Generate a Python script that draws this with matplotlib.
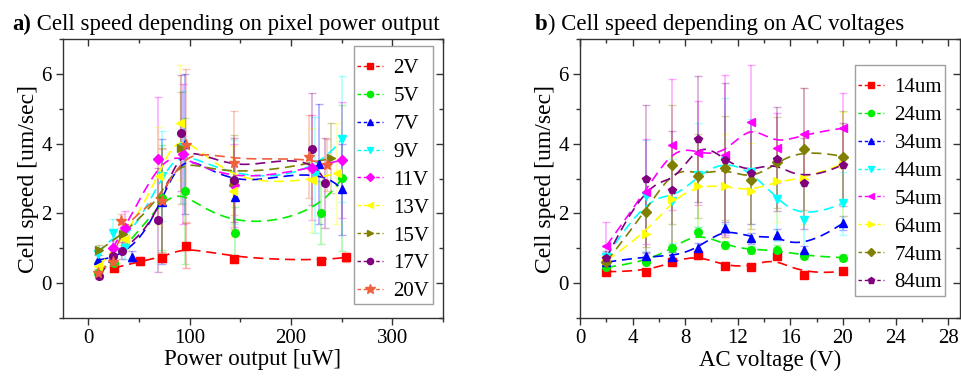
import numpy as np
import matplotlib
matplotlib.use("Agg")
import matplotlib.pyplot as plt
from matplotlib.ticker import MultipleLocator

plt.rcParams['font.family'] = ['Liberation Serif', 'DejaVu Serif']

# ---------------- data: panel a (power output) ----------------
a_labels = ["2V", "5V", "7V", "9V", "11V", "13V", "15V", "17V", "20V"]
a_x_2V = [25, 51, 73, 96, 144, 230, 254]
a_y_2V = [0.43, 0.63, 0.72, 1.07, 0.69, 0.64, 0.74]
a_e_2V = [0.10, 0.12, 0.12, 0.65, 0.10, 0.10, 0.12]
a_x_5V = [10, 25, 73, 95, 145, 230, 250]
a_y_5V = [0.30, 0.59, 2.45, 2.64, 1.43, 2.02, 3.01]
a_e_5V = [0.10, 0.12, 1.50, 2.10, 0.75, 0.90, 2.10]
a_x_7V = [10, 43, 73, 95, 145, 228, 250]
a_y_7V = [0.67, 0.76, 2.34, 3.99, 2.48, 3.42, 2.69]
a_e_7V = [0.15, 0.15, 1.80, 2.00, 1.00, 1.73, 1.30]
a_x_9V = [10, 24, 36, 73, 93, 144, 224, 250]
a_y_9V = [0.83, 1.45, 1.00, 3.07, 3.90, 2.90, 3.10, 4.13]
a_e_9V = [0.20, 0.40, 0.30, 1.30, 1.60, 1.20, 1.65, 1.80]
a_x_11V = [24, 36, 69, 93, 144, 221, 250]
a_y_11V = [1.00, 1.58, 3.55, 3.70, 2.80, 3.31, 3.53]
a_e_11V = [0.20, 0.50, 1.80, 2.00, 1.20, 1.50, 1.67]
a_x_13V = [10, 36, 70, 90, 143, 221, 245]
a_y_13V = [0.48, 1.26, 3.07, 4.60, 2.63, 2.96, 3.15]
a_e_13V = [0.15, 0.30, 1.40, 1.65, 1.30, 1.50, 1.45]
a_x_15V = [11, 34, 73, 91, 144, 239]
a_y_15V = [0.95, 1.40, 2.38, 3.87, 2.90, 3.58]
a_e_15V = [0.15, 0.30, 1.50, 1.60, 1.35, 1.00]
a_x_17V = [11, 24, 33, 69, 91, 144, 221, 234]
a_y_17V = [0.21, 0.78, 0.93, 1.81, 4.30, 2.96, 3.85, 2.87]
a_e_17V = [0.10, 0.20, 0.25, 1.50, 1.67, 1.20, 1.60, 1.30]
a_x_20V = [10, 24, 32, 73, 96, 144, 218, 236]
a_y_20V = [0.30, 0.60, 1.77, 2.36, 3.95, 3.44, 3.63, 3.39]
a_e_20V = [0.10, 0.15, 0.20, 1.50, 2.20, 1.50, 1.20, 0.75]

# ---------------- data: panel b (AC voltage) ----------------
b_labels = ["14um", "24um", "34um", "44um", "54um", "64um", "74um", "84um"]
b_x = [2, 5, 7, 9, 11, 13, 15, 17, 20]
b_y_14 = [0.33, 0.33, 0.62, 0.80, 0.49, 0.47, 0.77, 0.22, 0.34]
b_e_14 = [0.05, 0.08, 0.10, 0.10, 0.08, 0.08, 0.08, 0.08, 0.08]
b_y_24 = [0.45, 0.61, 1.00, 1.46, 1.09, 0.95, 0.96, 0.78, 0.73]
b_e_24 = [0.10, 0.10, 0.12, 0.15, 0.12, 0.12, 0.12, 0.10, 0.10]
b_y_34 = [0.60, 0.77, 0.75, 1.00, 1.59, 1.28, 1.39, 0.96, 1.72]
b_e_34 = [0.10, 0.10, 0.15, 0.15, 0.15, 0.15, 0.15, 0.10, 0.20]
b_y_44 = [0.75, 2.51, 2.35, 3.10, 3.50, 3.20, 2.41, 1.81, 2.29]
b_e_44 = [0.15, 1.60, 1.20, 1.50, 1.80, 1.50, 1.20, 1.00, 0.90]
b_y_54 = [1.07, 2.62, 3.97, 3.73, 3.68, 4.61, 3.88, 4.29, 4.44]
b_e_54 = [0.69, 1.50, 1.87, 1.50, 2.30, 1.65, 1.00, 1.30, 1.00]
b_y_64 = [0.65, 1.41, 2.41, 2.79, 2.79, 2.63, 2.94, 2.99, 3.42]
b_e_64 = [0.15, 0.60, 1.20, 1.30, 1.50, 1.40, 1.20, 1.30, 1.50]
b_y_74 = [0.62, 2.03, 3.40, 3.08, 3.30, 2.96, 3.46, 3.85, 3.63]
b_e_74 = [0.15, 1.00, 1.70, 1.20, 1.50, 1.40, 1.30, 1.75, 1.30]
b_y_84 = [0.71, 3.00, 2.67, 4.13, 3.53, 3.15, 3.56, 2.86, 3.40]
b_e_84 = [0.20, 2.10, 1.70, 1.80, 2.20, 1.46, 1.50, 1.30, 1.20]

colors = ["#FF0000", "#00EE00", "#0000FF", "#00FFFF", "#FF00FF",
          "#FFFF00", "#808000", "#800080", "#F0603C"]
a_markers = ["s", "o", "^", "v", "D", "<", ">", "o", "*"]
b_markers = ["s", "o", "^", "v", "<", ">", "D", "p"]

a_series = [(a_x_2V, a_y_2V, a_e_2V), (a_x_5V, a_y_5V, a_e_5V),
            (a_x_7V, a_y_7V, a_e_7V), (a_x_9V, a_y_9V, a_e_9V),
            (a_x_11V, a_y_11V, a_e_11V), (a_x_13V, a_y_13V, a_e_13V),
            (a_x_15V, a_y_15V, a_e_15V), (a_x_17V, a_y_17V, a_e_17V),
            (a_x_20V, a_y_20V, a_e_20V)]
b_series = [(b_y_14, b_e_14), (b_y_24, b_e_24), (b_y_34, b_e_34),
            (b_y_44, b_e_44), (b_y_54, b_e_54), (b_y_64, b_e_64),
            (b_y_74, b_e_74), (b_y_84, b_e_84)]


def bspline(xs, ys, n=300, k=3):
    P = np.column_stack([np.asarray(xs, float), np.asarray(ys, float)])
    m = len(P)
    k = min(k, m - 1)
    t = np.concatenate([np.zeros(k + 1), np.arange(1, m - k),
                        np.full(k + 1, m - k)]).astype(float)
    u = np.linspace(0, m - k, n)
    N = np.zeros((len(t) - 1, n))
    for i in range(len(t) - 1):
        N[i] = (t[i] <= u) & (u < t[i + 1])
    N[m - 1, u >= t[-1]] = 1.0
    for p in range(1, k + 1):
        Nn = np.zeros((len(t) - 1 - p, n))
        for i in range(len(t) - 1 - p):
            d1 = t[i + p] - t[i]
            d2 = t[i + p + 1] - t[i + 1]
            a = (u - t[i]) / d1 * N[i] if d1 > 0 else 0
            b = (t[i + p + 1] - u) / d2 * N[i + 1] if d2 > 0 else 0
            Nn[i] = a + b
        N = Nn
    C = N.T @ P
    return C[:, 0], C[:, 1]


W, H = 961, 377
fig = plt.figure(figsize=(W / 100, H / 100), dpi=100)
axA = fig.add_axes([63 / W, 1 - 318 / H, (443 - 63) / W, (318 - 39) / H])
axB = fig.add_axes([580 / W, 1 - 318 / H, (960 - 580) / W, (318 - 39) / H])

TICK_FS = 15
XLAB_FS = 16.5
YLAB_FS = 17
LEG_FS = 15
TFS = 16.4


def draw(ax, x, y, e, c, mk, lab):
    ax.errorbar(x, y, yerr=e, fmt="none", ecolor=c, alpha=0.33,
                elinewidth=1.2, capsize=3, capthick=1.0, zorder=2)
    sx, sy = bspline(x, y)
    ax.plot(sx, sy, ls=(0, (6, 3.5)), color=c, lw=1.2, zorder=3)
    ms = 8 if mk == "*" else 5.5
    ax.plot(x, y, ls="none", marker=mk, color=c, ms=ms, zorder=4)
    # legend proxy
    ax.plot([], [], ls=(0, (2.5, 2)), color=c, lw=1.0, marker=mk,
            ms=ms - 1, label=lab)


for (x, y, e), c, mk, lab in zip(a_series, colors, a_markers, a_labels):
    draw(axA, x, y, e, c, mk, lab)
for (y, e), c, mk, lab in zip(b_series, colors[:8], b_markers, b_labels):
    draw(axB, b_x, y, e, c, mk, lab)

axA.set_xlim(-25, 350)
axA.set_ylim(-1, 7)
axA.xaxis.set_major_locator(MultipleLocator(100))
axA.xaxis.set_minor_locator(MultipleLocator(50))
axB.set_xlim(0, 28.9)
axB.set_ylim(-1, 7)
axB.xaxis.set_major_locator(MultipleLocator(4))
axB.xaxis.set_minor_locator(MultipleLocator(2))

for ax in (axA, axB):
    ax.yaxis.set_major_locator(MultipleLocator(2))
    ax.yaxis.set_minor_locator(MultipleLocator(1))
    for s in ax.spines.values():
        s.set_linewidth(1.0)
        s.set_color("#333333")
    ax.tick_params(which="both", direction="out", top=False, right=False,
                   labelsize=TICK_FS, color="#333333", pad=3)
    ax.tick_params(which="major", length=5, width=1)
    ax.tick_params(which="minor", length=3, width=1)
    sec = ax.secondary_xaxis("top")
    sec.xaxis.set_major_locator(ax.xaxis.get_major_locator())
    sec.xaxis.set_minor_locator(ax.xaxis.get_minor_locator())
    sec.tick_params(which="both", direction="in", labeltop=False)
    sec.tick_params(which="major", length=5, width=1, color="#333333")
    sec.tick_params(which="minor", length=3, width=1, color="#333333")
    sec.spines["top"].set_visible(False)
    secy = ax.secondary_yaxis("right")
    secy.yaxis.set_major_locator(MultipleLocator(2))
    secy.yaxis.set_minor_locator(MultipleLocator(1))
    secy.tick_params(which="both", direction="in", labelright=False)
    secy.tick_params(which="major", length=5, width=1, color="#333333")
    secy.tick_params(which="minor", length=3, width=1, color="#333333")
    secy.spines["right"].set_visible(False)
    ax.set_ylabel("Cell speed [um/sec]", fontsize=YLAB_FS, labelpad=2)

axA.set_xlabel("Power output [uW]", fontsize=XLAB_FS, labelpad=1)
axB.set_xlabel("AC voltage (V)", fontsize=XLAB_FS, labelpad=1)

leg_kw = dict(fontsize=LEG_FS, frameon=True, fancybox=False,
              handlelength=1.25, handletextpad=0.5, labelspacing=0.4,
              borderpad=0.15, borderaxespad=0, title=" ", title_fontsize=0.5)
legA = axA.legend(loc="upper left", bbox_to_anchor=((354 - 63) / 380, 1 - 7 / 279),
                  **leg_kw)
legB = axB.legend(loc="upper left", bbox_to_anchor=((855 - 580) / 380, 1 - 26 / 279),
                  **leg_kw)
for lg in (legA, legB):
    lg.get_frame().set_edgecolor("#888888")
    lg.get_frame().set_linewidth(1.0)

# titles: bold panel letter + normal text
fig.canvas.draw()
r = fig.canvas.get_renderer()
for xpix, letter, rest in [(12, "a)", " Cell speed depending on pixel power output"),
                           (535, "b", ") Cell speed depending on AC voltages")]:
    t1 = fig.text(xpix / W, 1 - 30 / H, letter, fontsize=TFS, fontweight="bold",
                  ha="left", va="baseline")
    bb = t1.get_window_extent(r)
    fig.text(bb.x1 / W, 1 - 30 / H, rest, fontsize=TFS, ha="left", va="baseline")

fig.savefig("out.png", dpi=100)
